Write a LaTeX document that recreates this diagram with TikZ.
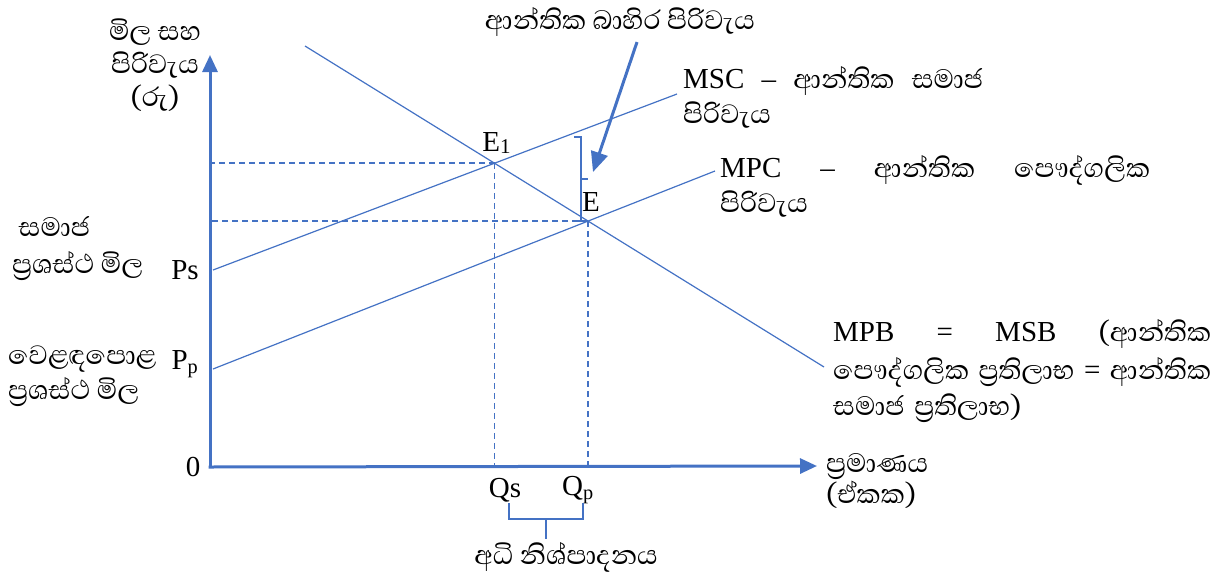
\documentclass[tikz,border=0pt]{standalone}
\usepackage{fontspec}
\setmainfont{Liberation Serif}
\newfontfamily\sinhala[Script=Sinhala]{Abhaya Libre}
\usetikzlibrary{arrows.meta,positioning,calc}
\definecolor{CurveBlue}{HTML}{4472C4}
\newcommand{\zwj}{^^^^200d}
\newcommand{\fullline}[2]{\leavevmode\hbox to #1{#2}}
\newcommand{\sitext}[1]{{\fontsize{34}{37}\sinhala #1}}

\begin{document}
\begin{tikzpicture}[x=1pt, y=-1pt, font=\fontsize{29}{34}\selectfont,
  axis/.style={draw=CurveBlue, line width=3pt, -{Triangle[length=17pt,width=15pt]}},
  bigarrow/.style={draw=CurveBlue, line width=3pt, -{Triangle[length=20pt,width=17pt]}},
  curve/.style={draw=CurveBlue, line width=1.2pt},
  guide/.style={draw=CurveBlue, line width=1.5pt, dash pattern=on 6pt off 4pt},
  lbl/.style={inner sep=0pt, align=left, anchor=west},
  si/.style={font=\fontsize{34}{37}\sinhala}]

\useasboundingbox (0,0) rectangle (1218,579);

\coordinate (O) at (210,467);
\coordinate (ytop) at (210,55);
\coordinate (xend) at (817,466);
\coordinate (mscA) at (213,270);
\coordinate (mscB) at (677,94);
\coordinate (mpcA) at (213,369);
\coordinate (mpcB) at (715,171);
\coordinate (mpbA) at (305,46);
\coordinate (mpbB) at (824,367);
\coordinate (E1) at (intersection of mscA--mscB and mpbA--mpbB);
\coordinate (E) at (intersection of mpcA--mpcB and mpbA--mpbB);

\draw[guide] (E1) -- (E1 -| O);
\draw[guide] (E1) -- (E1 |- O);
\draw[guide] (E) -- (E -| O);
\draw[guide] (E) -- (E |- O);

\draw[curve] (mscA) -- (mscB);
\draw[curve] (mpcA) -- (mpcB);
\draw[curve] (mpbA) -- (mpbB);

\draw[axis] (O) -- (ytop);
\draw[axis] ([xshift=-1.5pt]O) -- (xend);

\draw[curve] ($(E)+(-14,-84)$) -- ($(E)+(-7,-84)$) -- ($(E)+(-7,0)$) -- ($(E)+(-12,0)$);
\draw[curve] ($(E)+(-7,-42)$) -- ($(E)+(0,-42)$);

\node[si] (ext) at (620,22) {ආන්තික බාහිර පිරිවැය};
\coordinate (extTip) at (593,172);
\draw[bigarrow] ([xshift=17pt,yshift=-2pt]ext.south) -- (extTip);

\node[si, align=center, font=\fontsize{34}{33}\sinhala] (yname) at (155,65) {මිල සහ\\පිරිවැය\\(රු)};
\node[anchor=south] (e1lbl) at ($(E1)+(2,-6)$) {E\raisebox{-2pt}{\fontsize{21}{21}\selectfont 1}};
\node[anchor=south] (elbl) at ($(E)+(3,-6)$) {E};

\node[lbl, text width=300pt] (msclbl) at (683,97) {\fullline{300pt}{MSC\hfill–\hfill\sitext{ආන්තික}\hfill\sitext{සමාජ}}\\[1pt]\sitext{පිරිවැය}};
\node[lbl, text width=430pt] (mpclbl) at (720,186) {\fullline{430pt}{MPC\hfill–\hfill\sitext{ආන්තික}\hfill\sitext{පෞද්ගලික}}\\[1pt]\sitext{පිරිවැය}};
\node[lbl, text width=378pt] (mpblbl) at (833,371) {\fullline{378pt}{MPB\hfill=\hfill MSB\hfill\sitext{(ආන්තික}}\\[4pt]\fullline{378pt}{\sitext{පෞද්ගලික}\hfill\sitext{ප්\zwj රතිලාභ}\hfill=\hfill\sitext{ආන්තික}}\\[2pt]\sitext{සමාජ ප්\zwj රතිලාභ)}};

\node[lbl, si] (soclbl) at (12,249) {\ සමාජ\\ප්\zwj රශස්ථ මිල};
\node[lbl, si, font=\fontsize{34}{35}\sinhala] (mktlbl) at (8,376) {වෙළඳපොළ\\ප්\zwj රශස්ථ මිල};
\node (ps) at (185,270) {Ps};
\node (pp) at (185,364) {P\textsubscript{p}};
\node (zero) at (193,467) {0};

\node (qs) at (505,490) {Qs};
\node (qp) at (578,490) {Q\textsubscript{p}};
\coordinate (brL) at (509,503);
\coordinate (brR) at (583,503);
\coordinate (brM) at ($(brL)!0.5!(brR)+(0,16)$);
\draw[curve] (brL) -- ++(0,16) -| (brR);
\node[si, anchor=north] (over) at (566,539) {අධි නිශ්පාදනය};
\draw[curve] (brM) -- (brM |- over.north);

\node[lbl, si, font=\fontsize{34}{31}\sinhala] (qname) at (826,481) {ප්\zwj රමාණය\\(ඒකක)};
\end{tikzpicture}
\end{document}
